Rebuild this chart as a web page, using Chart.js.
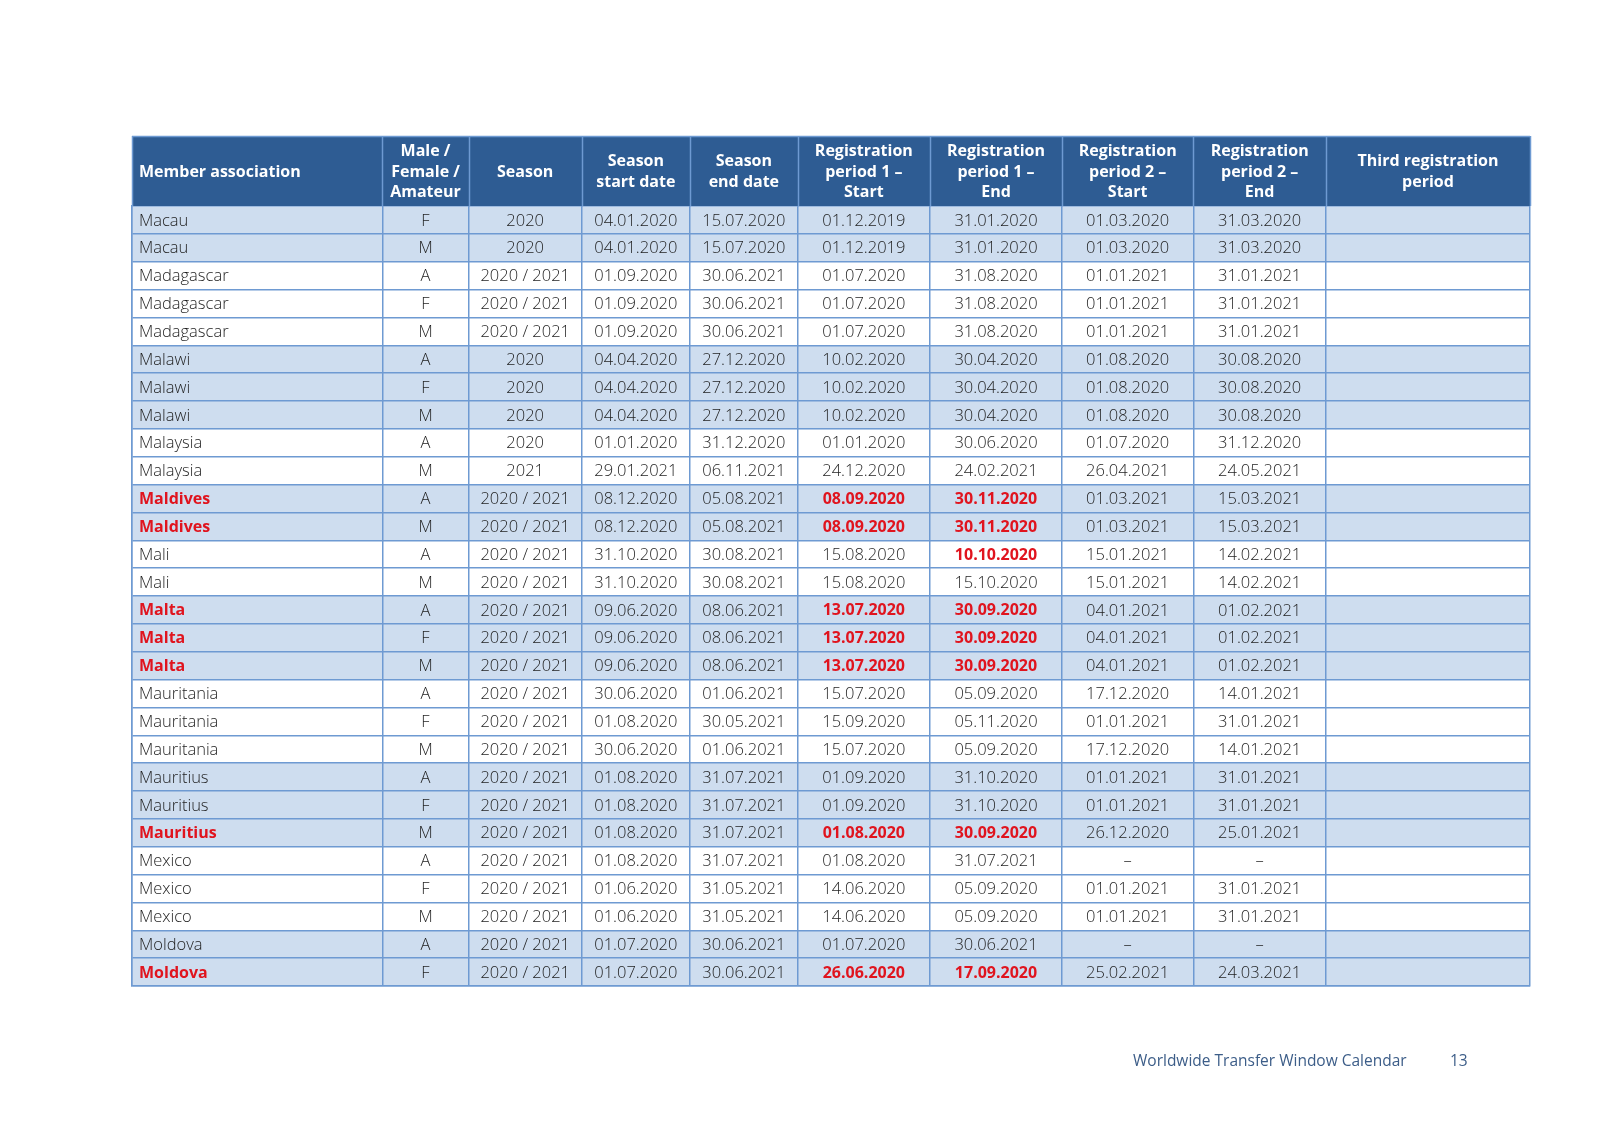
<!DOCTYPE html>
<html>
<head>
<meta charset="utf-8">
<script src="https://cdn.jsdelivr.net/npm/chart.js@4.4.1/dist/chart.umd.min.js"></script>
<style>
  html, body { margin: 0; padding: 0; background: #ffffff; }
  #wrap { width: 1600px; height: 1131px; position: relative; }
</style>
</head>
<body>
<div id="wrap"><canvas id="c" width="1600" height="1131"></canvas></div>
<script>
// ---------------- DATA ----------------
const headers = [
  ["Member association"],
  ["Male /", "Female /", "Amateur"],
  ["Season"],
  ["Season", "start date"],
  ["Season", "end date"],
  ["Registration", "period 1 –", "Start"],
  ["Registration", "period 1 –", "End"],
  ["Registration", "period 2 –", "Start"],
  ["Registration", "period 2 –", "End"],
  ["Third registration", "period"]
];

const associations = [
  "Macau", "Macau",
  "Madagascar", "Madagascar", "Madagascar",
  "Malawi", "Malawi", "Malawi",
  "Malaysia", "Malaysia",
  "Maldives", "Maldives",
  "Mali", "Mali",
  "Malta", "Malta", "Malta",
  "Mauritania", "Mauritania", "Mauritania",
  "Mauritius", "Mauritius", "Mauritius",
  "Mexico", "Mexico", "Mexico",
  "Moldova", "Moldova"
];

const categories = [
  "F", "M",
  "A", "F", "M",
  "A", "F", "M",
  "A", "M",
  "A", "M",
  "A", "M",
  "A", "F", "M",
  "A", "F", "M",
  "A", "F", "M",
  "A", "F", "M",
  "A", "F"
];

const seasons = [
  "2020", "2020",
  "2020 / 2021", "2020 / 2021", "2020 / 2021",
  "2020", "2020", "2020",
  "2020", "2021",
  "2020 / 2021", "2020 / 2021",
  "2020 / 2021", "2020 / 2021",
  "2020 / 2021", "2020 / 2021", "2020 / 2021",
  "2020 / 2021", "2020 / 2021", "2020 / 2021",
  "2020 / 2021", "2020 / 2021", "2020 / 2021",
  "2020 / 2021", "2020 / 2021", "2020 / 2021",
  "2020 / 2021", "2020 / 2021"
];

const seasonStart = [
  "04.01.2020", "04.01.2020",
  "01.09.2020", "01.09.2020", "01.09.2020",
  "04.04.2020", "04.04.2020", "04.04.2020",
  "01.01.2020", "29.01.2021",
  "08.12.2020", "08.12.2020",
  "31.10.2020", "31.10.2020",
  "09.06.2020", "09.06.2020", "09.06.2020",
  "30.06.2020", "01.08.2020", "30.06.2020",
  "01.08.2020", "01.08.2020", "01.08.2020",
  "01.08.2020", "01.06.2020", "01.06.2020",
  "01.07.2020", "01.07.2020"
];

const seasonEnd = [
  "15.07.2020", "15.07.2020",
  "30.06.2021", "30.06.2021", "30.06.2021",
  "27.12.2020", "27.12.2020", "27.12.2020",
  "31.12.2020", "06.11.2021",
  "05.08.2021", "05.08.2021",
  "30.08.2021", "30.08.2021",
  "08.06.2021", "08.06.2021", "08.06.2021",
  "01.06.2021", "30.05.2021", "01.06.2021",
  "31.07.2021", "31.07.2021", "31.07.2021",
  "31.07.2021", "31.05.2021", "31.05.2021",
  "30.06.2021", "30.06.2021"
];

const reg1Start = [
  "01.12.2019", "01.12.2019",
  "01.07.2020", "01.07.2020", "01.07.2020",
  "10.02.2020", "10.02.2020", "10.02.2020",
  "01.01.2020", "24.12.2020",
  "08.09.2020", "08.09.2020",
  "15.08.2020", "15.08.2020",
  "13.07.2020", "13.07.2020", "13.07.2020",
  "15.07.2020", "15.09.2020", "15.07.2020",
  "01.09.2020", "01.09.2020", "01.08.2020",
  "01.08.2020", "14.06.2020", "14.06.2020",
  "01.07.2020", "26.06.2020"
];

const reg1End = [
  "31.01.2020", "31.01.2020",
  "31.08.2020", "31.08.2020", "31.08.2020",
  "30.04.2020", "30.04.2020", "30.04.2020",
  "30.06.2020", "24.02.2021",
  "30.11.2020", "30.11.2020",
  "10.10.2020", "15.10.2020",
  "30.09.2020", "30.09.2020", "30.09.2020",
  "05.09.2020", "05.11.2020", "05.09.2020",
  "31.10.2020", "31.10.2020", "30.09.2020",
  "31.07.2021", "05.09.2020", "05.09.2020",
  "30.06.2021", "17.09.2020"
];

const reg2Start = [
  "01.03.2020", "01.03.2020",
  "01.01.2021", "01.01.2021", "01.01.2021",
  "01.08.2020", "01.08.2020", "01.08.2020",
  "01.07.2020", "26.04.2021",
  "01.03.2021", "01.03.2021",
  "15.01.2021", "15.01.2021",
  "04.01.2021", "04.01.2021", "04.01.2021",
  "17.12.2020", "01.01.2021", "17.12.2020",
  "01.01.2021", "01.01.2021", "26.12.2020",
  "–", "01.01.2021", "01.01.2021",
  "–", "25.02.2021"
];

const reg2End = [
  "31.03.2020", "31.03.2020",
  "31.01.2021", "31.01.2021", "31.01.2021",
  "30.08.2020", "30.08.2020", "30.08.2020",
  "31.12.2020", "24.05.2021",
  "15.03.2021", "15.03.2021",
  "14.02.2021", "14.02.2021",
  "01.02.2021", "01.02.2021", "01.02.2021",
  "14.01.2021", "31.01.2021", "14.01.2021",
  "31.01.2021", "31.01.2021", "25.01.2021",
  "–", "31.01.2021", "31.01.2021",
  "–", "24.03.2021"
];

const thirdPeriod = [
  "", "", "", "", "", "", "", "", "", "", "", "", "", "",
  "", "", "", "", "", "", "", "", "", "", "", "", "", ""
];

// highlighted (bold red) cells: association name, reg-1 start, reg-1 end
const redAssociation = [
  0, 0, 0, 0, 0, 0, 0, 0, 0, 0,
  1, 1, 0, 0, 1, 1, 1, 0, 0, 0,
  0, 0, 1, 0, 0, 0, 0, 1
];
const redReg1Start = [
  0, 0, 0, 0, 0, 0, 0, 0, 0, 0,
  1, 1, 0, 0, 1, 1, 1, 0, 0, 0,
  0, 0, 1, 0, 0, 0, 0, 1
];
const redReg1End = [
  0, 0, 0, 0, 0, 0, 0, 0, 0, 0,
  1, 1, 1, 0, 1, 1, 1, 0, 0, 0,
  0, 0, 1, 0, 0, 0, 0, 1
];

// associations whose rows are shaded
const shadedAssociations = ["Macau", "Malawi", "Maldives", "Malta", "Mauritius", "Moldova"];

const footerTitle = "Worldwide Transfer Window Calendar";
const footerPage = "13";

// ---------------- LAYOUT / STYLE ----------------
const colWidths = [250.3, 86.4, 113, 108.3, 107.7, 132.3, 132, 131.3, 132.7, 204];
const colEdges = colWidths.reduce((acc, w) => { acc.push(acc[acc.length - 1] + w); return acc; }, [0]);
const tableWidth = colEdges[colEdges.length - 1];

const HEADER_H = 70;
const COLORS = {
  header: "#2E5C93",
  shade: "#CEDDEF",
  grid: "#6E9AD2",
  text: "#1E1E1E",
  red: "#E0141E",
  footer: "#3C5D88"
};
const FONT = "'Open Sans', 'Noto Sans', sans-serif";

const columns = [associations, categories, seasons, seasonStart, seasonEnd,
                 reg1Start, reg1End, reg2Start, reg2End, thirdPeriod];
const redCols = { 0: redAssociation, 5: redReg1Start, 6: redReg1End };

const rowLabels = associations.map((a, i) => String(i));
const shadeData = associations.map(a => shadedAssociations.includes(a) ? [0, tableWidth] : null);

const tablePlugin = {
  id: "tablePlugin",
  afterDraw(chart) {
    const ctx = chart.ctx;
    const xs = chart.scales.x;
    const ys = chart.scales.y;
    const top = chart.chartArea.top;
    const hTop = top - HEADER_H;
    const left = xs.getPixelForValue(0);
    const right = xs.getPixelForValue(tableWidth);

    ctx.save();
    // header background
    ctx.fillStyle = COLORS.header;
    ctx.fillRect(left, hTop, right - left, HEADER_H);
    // header separators
    ctx.strokeStyle = COLORS.grid;
    ctx.lineWidth = 1.5;
    colEdges.forEach(e => {
      const px = Math.round(xs.getPixelForValue(e)) + 0.5;
      ctx.beginPath(); ctx.moveTo(px, hTop); ctx.lineTo(px, top); ctx.stroke();
    });
    ctx.beginPath(); ctx.moveTo(left, hTop + 0.5); ctx.lineTo(right, hTop + 0.5); ctx.stroke();

    // header text
    ctx.fillStyle = "#FFFFFF";
    ctx.font = "bold 16px " + FONT;
    ctx.textBaseline = "middle";
    const lineH = 20.5;
    const hMid = hTop + HEADER_H / 2 + 1;
    headers.forEach((lines, c) => {
      const x0 = xs.getPixelForValue(colEdges[c]);
      const x1 = xs.getPixelForValue(colEdges[c + 1]);
      lines.forEach((ln, k) => {
        const y = hMid + (k - (lines.length - 1) / 2) * lineH;
        if (c === 0) { ctx.textAlign = "left"; ctx.fillText(ln, x0 + 7, y); }
        else { ctx.textAlign = "center"; ctx.fillText(ln, (x0 + x1) / 2, y); }
      });
    });

    // body text
    columns.forEach((col, c) => {
      const x0 = xs.getPixelForValue(colEdges[c]);
      const x1 = xs.getPixelForValue(colEdges[c + 1]);
      col.forEach((txt, r) => {
        if (!txt) return;
        const y = ys.getPixelForValue(r) + 1;
        const isRed = redCols[c] && redCols[c][r];
        ctx.fillStyle = isRed ? COLORS.red : COLORS.text;
        ctx.font = (isRed ? "bold 16px " : "300 16.5px ") + FONT;
        if (c === 0) { ctx.textAlign = "left"; ctx.fillText(txt, x0 + 7, y); }
        else { ctx.textAlign = "center"; ctx.fillText(txt, (x0 + x1) / 2, y); }
      });
    });

    // footer
    ctx.fillStyle = COLORS.footer;
    ctx.font = "15.5px " + FONT;
    ctx.textAlign = "left";
    ctx.fillText(footerTitle, 1133, 1062);
    ctx.fillText(footerPage, 1450, 1062);
    ctx.restore();
  }
};

new Chart(document.getElementById("c"), {
  type: "bar",
  data: {
    labels: rowLabels,
    datasets: [{
      label: "shade",
      data: shadeData,
      backgroundColor: COLORS.shade,
      borderWidth: 0,
      barPercentage: 1,
      categoryPercentage: 1,
      grouped: false
    }]
  },
  options: {
    indexAxis: "y",
    responsive: false,
    animation: false,
    events: [],
    layout: { padding: { left: 132, right: 70, top: 206, bottom: 145 } },
    plugins: { legend: { display: false }, tooltip: { enabled: false } },
    scales: {
      x: {
        type: "linear",
        min: 0,
        max: tableWidth,
        position: "bottom",
        afterBuildTicks: (scale) => { scale.ticks = colEdges.map(v => ({ value: v })); },
        ticks: { display: false },
        grid: { color: COLORS.grid, lineWidth: 1.5, drawTicks: false, z: 1 },
        border: { display: true, color: COLORS.grid, width: 1.5, z: 1 }
      },
      y: {
        type: "category",
        offset: true,
        ticks: { display: false },
        grid: { color: COLORS.grid, lineWidth: 1.5, drawTicks: false, offset: true, z: 1 },
        border: { display: true, color: COLORS.grid, width: 1.5, z: 1 }
      }
    }
  },
  plugins: [tablePlugin]
});
</script>
</body>
</html>
